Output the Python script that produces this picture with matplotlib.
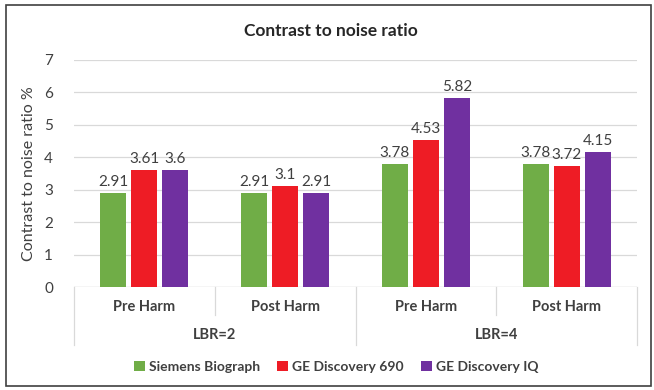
import matplotlib.pyplot as plt
import numpy as np
from matplotlib.patches import Rectangle

plt.rcParams['font.family'] = ['Lato', 'DejaVu Sans']

conditions = ['Pre Harm', 'Post Harm', 'Pre Harm', 'Post Harm']
ratios = ['LBR=2', 'LBR=4']
scanners = ['Siemens Biograph', 'GE Discovery 690', 'GE Discovery IQ']
siemens = [2.91, 2.91, 3.78, 3.78]
ge_690 = [3.61, 3.1, 4.53, 3.72]
ge_iq = [3.6, 2.91, 5.82, 4.15]
colors = ['#70AD47', '#EE1C25', '#7030A0']

fig = plt.figure(figsize=(6.54, 3.9), dpi=100)
ax = fig.add_axes([0.1131, 0.264, 0.861, 0.583])

x = np.arange(len(conditions))
width = 0.185
step = 0.22
for i, (name, vals) in enumerate(zip(scanners, [siemens, ge_690, ge_iq])):
    pos = x + (i - 1) * step
    bars = ax.bar(pos, vals, width, color=colors[i], label=name, zorder=3)
    for b, v in zip(bars, vals):
        ax.text(b.get_x() + b.get_width() / 2, v + 0.12, f'{v:g}',
                ha='center', va='bottom', fontsize=11, color='#404040')

ax.set_xlim(-0.5, 3.5)
ax.set_ylim(0, 7)
ax.set_yticks(range(8))
ax.tick_params(axis='y', length=0, labelsize=11, labelcolor='#404040', pad=15)
ax.set_xticks([])
ax.grid(axis='y', color='#D9D9D9', linewidth=0.9, zorder=0)
for s in ax.spines.values():
    s.set_visible(False)
ax.axhline(0, color='#D9D9D9', linewidth=0.9, zorder=2)
ax.set_ylabel('Contrast to noise ratio %', fontsize=11.5, color='#404040')
ax.yaxis.set_label_coords(-0.068, 0.5)
fig.text(0.506, 0.921, 'Contrast to noise ratio', ha='center', va='center',
         fontsize=12.5, fontweight='bold', color='#262626')

# two-level category axis below the bars
tr = ax.get_xaxis_transform()
for xs, yb in [(-0.5, -0.255), (0.5, -0.123), (1.5, -0.255), (2.5, -0.123), (3.5, -0.255)]:
    ax.plot([xs, xs], [0, yb], color='#D9D9D9', linewidth=0.9,
            transform=tr, clip_on=False)
for xi, lab in zip(x, conditions):
    ax.text(xi, -0.088, lab, transform=tr, ha='center', va='center',
            fontsize=10.5, fontweight='bold', color='#404040')
for k, lab in enumerate(ratios):
    ax.text(2 * k + 0.5, -0.211, lab, transform=tr, ha='center', va='center',
            fontsize=10.5, fontweight='bold', color='#404040')

fig.legend(loc='center', bbox_to_anchor=(0.514, 0.06), ncol=3, frameon=False,
           handlelength=0.8, handleheight=0.8, handletextpad=0.3,
           columnspacing=1.2, prop={'size': 10, 'weight': 'bold'},
           labelcolor='#404040')

fig.patches.append(Rectangle((0.009, 0.01), 0.987, 0.978, transform=fig.transFigure,
                             fill=False, edgecolor='#404040', linewidth=1.2))

fig.savefig('out.png', dpi=100)
